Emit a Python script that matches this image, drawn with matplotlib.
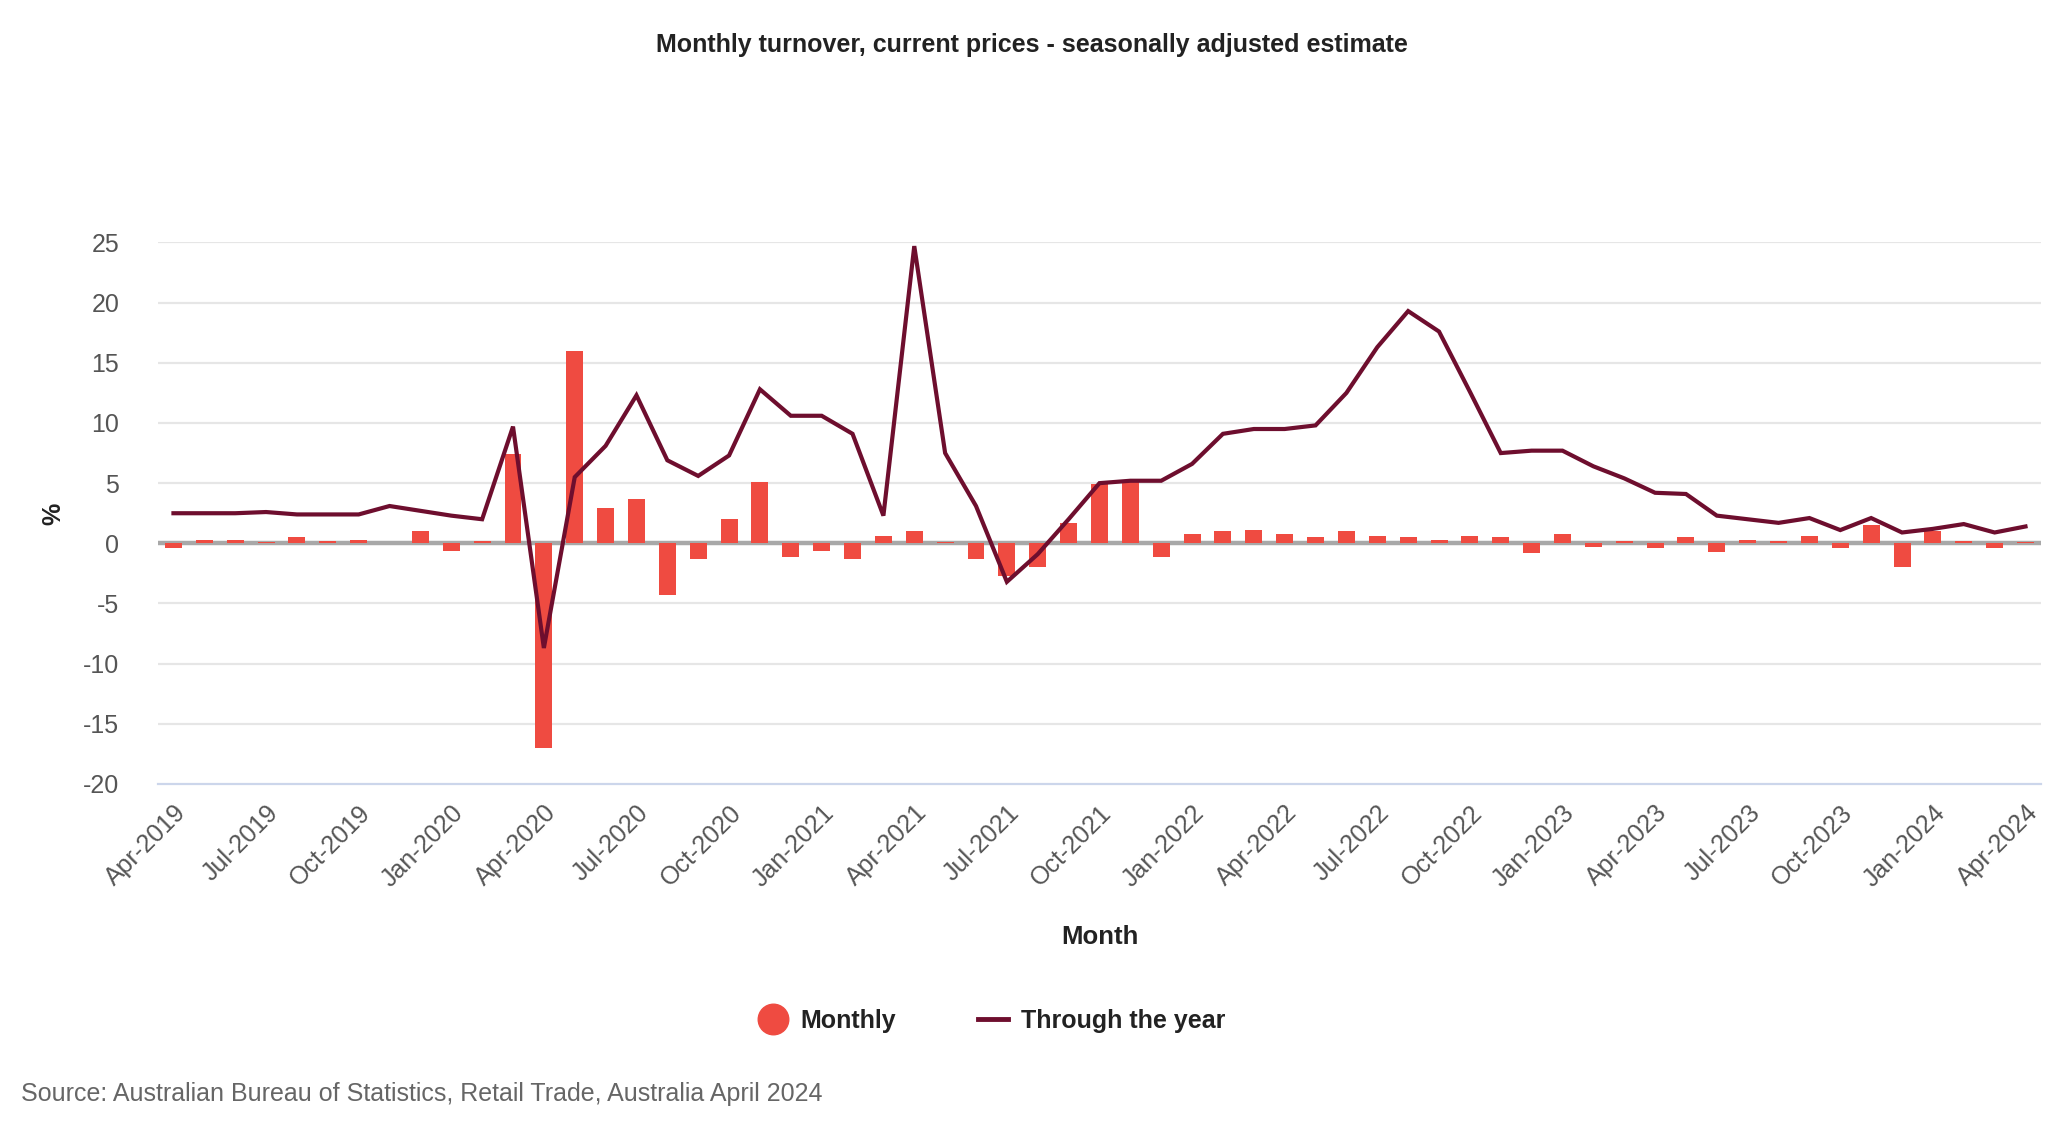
import matplotlib
matplotlib.use("Agg")
import matplotlib.pyplot as plt
from matplotlib.lines import Line2D
import numpy as np

plt.rcParams['font.family'] = ['Liberation Sans', 'DejaVu Sans']
plt.rcParams['axes.unicode_minus'] = False

months = ["Apr-2019", "May-2019", "Jun-2019", "Jul-2019", "Aug-2019", "Sep-2019",
          "Oct-2019", "Nov-2019", "Dec-2019", "Jan-2020", "Feb-2020", "Mar-2020",
          "Apr-2020", "May-2020", "Jun-2020", "Jul-2020", "Aug-2020", "Sep-2020",
          "Oct-2020", "Nov-2020", "Dec-2020", "Jan-2021", "Feb-2021", "Mar-2021",
          "Apr-2021", "May-2021", "Jun-2021", "Jul-2021", "Aug-2021", "Sep-2021",
          "Oct-2021", "Nov-2021", "Dec-2021", "Jan-2022", "Feb-2022", "Mar-2022",
          "Apr-2022", "May-2022", "Jun-2022", "Jul-2022", "Aug-2022", "Sep-2022",
          "Oct-2022", "Nov-2022", "Dec-2022", "Jan-2023", "Feb-2023", "Mar-2023",
          "Apr-2023", "May-2023", "Jun-2023", "Jul-2023", "Aug-2023", "Sep-2023",
          "Oct-2023", "Nov-2023", "Dec-2023", "Jan-2024", "Feb-2024", "Mar-2024",
          "Apr-2024"]

monthly = [-0.4, 0.3, 0.3, 0.1, 0.5, 0.2, 0.3, 0.0, 1.0, -0.6, 0.2, 7.4,
           -17.0, 16.0, 2.9, 3.7, -4.3, -1.3, 2.0, 5.1, -1.1, -0.6, -1.3, 0.6,
           1.0, 0.1, -1.3, -2.7, -2.0, 1.7, 4.9, 5.2, -1.1, 0.8, 1.0, 1.1,
           0.8, 0.5, 1.0, 0.6, 0.5, 0.3, 0.6, 0.5, -0.8, 0.8, -0.3, 0.2,
           -0.4, 0.5, -0.7, 0.3, 0.2, 0.6, -0.4, 1.5, -2.0, 1.0, 0.2, -0.4,
           0.1]

through_year = [2.5, 2.5, 2.5, 2.6, 2.4, 2.4, 2.4, 3.1, 2.7, 2.3, 2.0, 9.7,
                -8.7, 5.5, 8.1, 12.3, 6.9, 5.6, 7.3, 12.8, 10.6, 10.6, 9.1, 2.3,
                24.7, 7.5, 3.1, -3.2, -0.9, 2.0, 5.0, 5.2, 5.2, 6.6, 9.1, 9.5,
                9.5, 9.8, 12.5, 16.3, 19.3, 17.6, 12.6, 7.5, 7.7, 7.7, 6.4, 5.4,
                4.2, 4.1, 2.3, 2.0, 1.7, 2.1, 1.1, 2.1, 0.9, 1.2, 1.6, 0.9,
                1.4]

y_ticks = [-20, -15, -10, -5, 0, 5, 10, 15, 20, 25]

bar_color = "#EF4B41"
line_color = "#6E0E2E"

fig = plt.figure(figsize=(20.63, 11.46), dpi=100)
ax = fig.add_axes([0.0766, 0.3159, 0.9127, 0.4725])

x = np.arange(len(months))
ax.set_xlim(-0.5, len(months) - 0.5)
ax.set_ylim(-20, 25)
ax.set_yticks(y_ticks)
for v in y_ticks:
    if v not in (0, -20):
        ax.axhline(v, color="#e6e6e6", lw=1.6, zorder=0)
ax.axhline(0, color="#a8a8a8", lw=3.2, zorder=1)

ax.bar(x, monthly, width=0.55, color=bar_color, zorder=2)
ax.plot(x, through_year, color=line_color, lw=3.0, zorder=3,
        solid_joinstyle="miter")

for s in ["top", "right", "left"]:
    ax.spines[s].set_visible(False)
ax.spines["bottom"].set_color("#ccd6eb")
ax.spines["bottom"].set_linewidth(1.6)

ax.tick_params(axis="y", length=0, labelsize=18, labelcolor="#555555", pad=28)
ax.set_xticks(x[::3])
ax.set_xticklabels(months[::3], rotation=45, ha="right", rotation_mode="anchor",
                   fontsize=18, color="#555555")
ax.tick_params(axis="x", length=0, pad=12)

ax.set_xlabel("Month", fontsize=18.5, fontweight="bold", color="#222222", labelpad=24)
fig.text(0.0257, 0.5515, "%", rotation=90, ha="center", va="center",
         fontsize=18, fontweight="bold", color="#222222")

fig.text(0.5, 0.961, "Monthly turnover, current prices - seasonally adjusted estimate",
         ha="center", va="center", fontsize=18, fontweight="bold", color="#222222")

handles = [Line2D([0], [0], marker="o", color="none", markerfacecolor=bar_color,
                  markeredgecolor=bar_color, markersize=22),
           Line2D([0], [0], color=line_color, lw=3.5)]
leg = fig.legend(handles, ["Monthly", "Through the year"], loc="center",
                 bbox_to_anchor=(0.4805, 0.109), ncol=2, frameon=False,
                 prop={"size": 18, "weight": "bold"}, handlelength=1.2,
                 handletextpad=0.5, columnspacing=3.3)
for t in leg.get_texts():
    t.set_color("#222222")

fig.text(0.0102, 0.045, "Source: Australian Bureau of Statistics, Retail Trade, Australia April 2024",
         ha="left", va="center", fontsize=18, color="#666666")

fig.savefig("out.png", dpi=100)
